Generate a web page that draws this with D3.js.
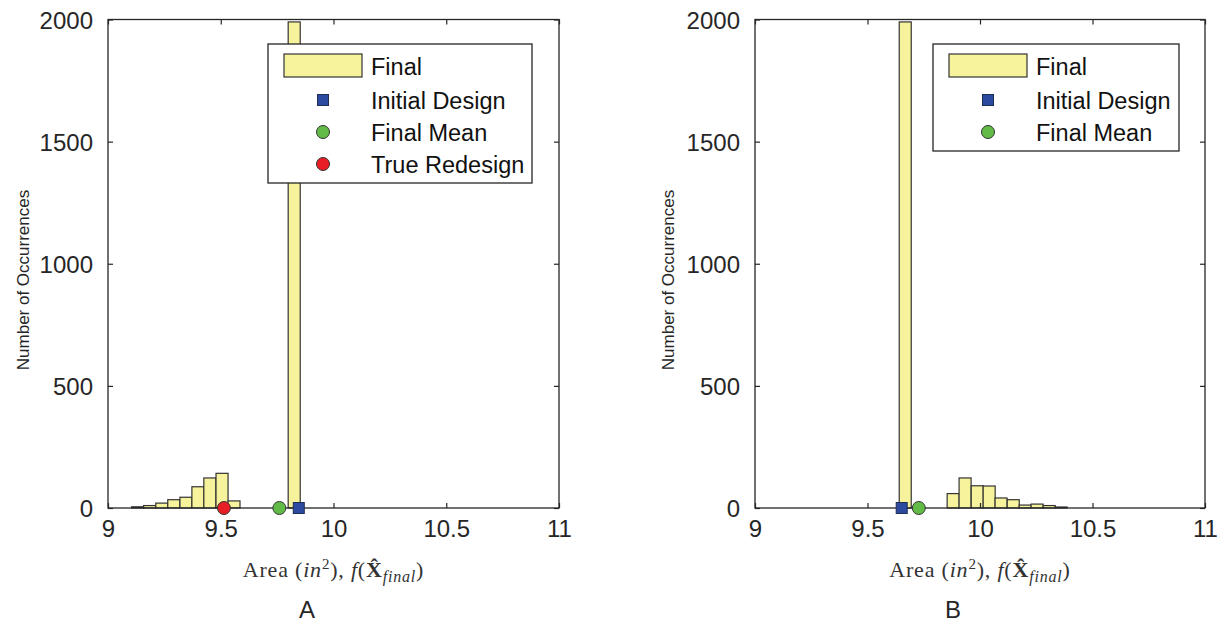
<!DOCTYPE html>
<html>
<head>
<meta charset="utf-8">
<script src="https://cdn.jsdelivr.net/npm/d3@7"></script>
<style>
  html, body { margin: 0; padding: 0; background: #fff; }
  svg { display: block; }
</style>
</head>
<body>
<svg id="chart" width="1227" height="626"></svg>
<script>
// ---------------- data ----------------
const binWidth = 0.0534;
// Panel A histogram (left bin edges and counts)
const leftBinStarts = [9.105, 9.158, 9.212, 9.265, 9.319, 9.372, 9.425, 9.479, 9.532, 9.799];
const leftCounts    = [5, 10, 20, 34, 44, 87, 123, 142, 29, 1990];
// Panel B histogram
const rightBinStarts = [9.641, 9.854, 9.907, 9.961, 10.014, 10.067, 10.121, 10.174, 10.227, 10.281, 10.334];
const rightCounts    = [1990, 59, 123, 91, 90, 41, 34, 12, 16, 10, 4];
// markers (x positions, at y = 0)
const leftInitialDesign = 9.846;
const leftFinalMean = 9.760;
const leftTrueRedesign = 9.514;
const rightInitialDesign = 9.652;
const rightFinalMean = 9.728;
// ticks
const xTicks = [9, 9.5, 10, 10.5, 11];
const xTickLabels = ["9", "9.5", "10", "10.5", "11"];
const yTicks = [0, 500, 1000, 1500, 2000];
const yTickLabels = ["0", "500", "1000", "1500", "2000"];
const legendA = ["Final", "Initial Design", "Final Mean", "True Redesign"];
const legendB = ["Final", "Initial Design", "Final Mean"];
const panelLabels = ["A", "B"];

// ---------------- style ----------------
const C = {
  axis: "#262626",
  bar: "#f7f29c",
  barEdge: "#333333",
  blue: "#2c4aa0",
  green: "#63bb47",
  red: "#e81d25"
};
const sans = "Helvetica, Arial, 'Liberation Sans', sans-serif";
const serif = "'Liberation Serif', 'Times New Roman', serif";

const svg = d3.select("#chart");
svg.append("rect").attr("width", 1227).attr("height", 626).attr("fill", "#fff");

function panel(opts) {
  const {x0, x1, y0, y1, starts, counts, markers, legend, legendBox, label, labelX, yLabelX} = opts;
  const x = d3.scaleLinear().domain([9, 11]).range([x0, x1]);
  const y = d3.scaleLinear().domain([0, 2000]).range([y1, y0]);
  const g = svg.append("g");

  // bars
  g.selectAll("rect.bar").data(starts.map((s, i) => ({s, c: counts[i]})))
    .enter().append("rect")
    .attr("x", d => x(d.s))
    .attr("width", d => x(d.s + binWidth) - x(d.s))
    .attr("y", d => y(d.c))
    .attr("height", d => y(0) - y(d.c))
    .attr("fill", C.bar)
    .attr("stroke", C.barEdge)
    .attr("stroke-width", 1.2);

  // axes (box with inward ticks on all sides)
  const tl = 5;
  const bottom = d3.axisBottom(x).tickValues(xTicks).tickSize(-tl).tickFormat((d, i) => xTickLabels[i]).tickPadding(12);
  const top = d3.axisTop(x).tickValues(xTicks).tickSize(-tl).tickFormat("");
  const left = d3.axisLeft(y).tickValues(yTicks).tickSize(-tl).tickFormat((d, i) => yTickLabels[i]).tickPadding(15);
  const right = d3.axisRight(y).tickValues(yTicks).tickSize(-tl).tickFormat("");

  const styleAxis = sel => {
    sel.select(".domain").attr("stroke", C.axis).attr("stroke-width", 1.3);
    sel.selectAll(".tick line").attr("stroke", C.axis).attr("stroke-width", 1.2);
    sel.selectAll(".tick text").attr("fill", "#262626").attr("font-family", sans).attr("font-size", 24);
  };
  g.append("g").attr("transform", `translate(0,${y1})`).call(bottom).call(styleAxis)
    .selectAll(".tick text").attr("dy", "0.71em");
  g.append("g").attr("transform", `translate(0,${y0})`).call(top).call(styleAxis);
  g.append("g").attr("transform", `translate(${x0},0)`).call(left).call(styleAxis)
    .selectAll(".tick text").attr("dy", "0.36em");
  g.append("g").attr("transform", `translate(${x1},0)`).call(right).call(styleAxis);
  g.selectAll(".domain").remove();
  g.append("rect").attr("x", x0).attr("y", y0).attr("width", x1 - x0).attr("height", y1 - y0)
    .attr("fill", "none").attr("stroke", C.axis).attr("stroke-width", 1.3);

  // markers
  markers.forEach(m => {
    if (m.type === "square") {
      g.append("rect").attr("x", x(m.v) - 5.5).attr("y", y(0) - 5.5).attr("width", 11).attr("height", 11)
        .attr("fill", m.color).attr("stroke", "#1f2d55").attr("stroke-width", 1);
    } else {
      g.append("circle").attr("cx", x(m.v)).attr("cy", y(0)).attr("r", 6.5)
        .attr("fill", m.color).attr("stroke", "#333").attr("stroke-width", 1);
    }
  });

  // y label
  g.append("text")
    .attr("transform", `translate(${yLabelX},280) rotate(-90)`)
    .attr("text-anchor", "middle").attr("dominant-baseline", "central")
    .attr("font-family", sans).attr("font-size", 17).attr("fill", "#262626")
    .text("Number of Occurrences");

  // x label (math style)
  const xl = g.append("text")
    .attr("x", (x0 + x1) / 2).attr("y", 577)
    .attr("text-anchor", "middle")
    .attr("letter-spacing", 0.8)
    .attr("font-family", serif).attr("font-size", 22).attr("fill", "#333");
  xl.append("tspan").text("Area (");
  xl.append("tspan").attr("font-style", "italic").text("in");
  xl.append("tspan").attr("font-size", 15).attr("dy", -8).text("2");
  xl.append("tspan").attr("dy", 8).text("),  ");
  xl.append("tspan").attr("font-style", "italic").text("f");
  xl.append("tspan").text("(");
  xl.append("tspan").attr("font-weight", "bold").text("X\u0302");
  xl.append("tspan").attr("font-style", "italic").attr("font-size", 16).attr("dy", 5).text("final");
  xl.append("tspan").attr("dy", -5).text(")");

  // panel label
  g.append("text").attr("x", labelX).attr("y", 618).attr("text-anchor", "middle")
    .attr("font-family", sans).attr("font-size", 24).attr("fill", "#262626").text(label);

  // legend
  const lb = legendBox;
  const lg = g.append("g");
  lg.append("rect").attr("x", lb.x).attr("y", lb.y).attr("width", lb.w).attr("height", lb.h)
    .attr("fill", "#fff").attr("stroke", C.axis).attr("stroke-width", 1.3);
  const rowY = [66, 100, 132, 164];
  legend.forEach((name, i) => {
    const ry = rowY[i];
    if (i === 0) {
      lg.append("rect").attr("x", lb.x + 16).attr("y", ry - 12).attr("width", 78).attr("height", 23)
        .attr("fill", C.bar).attr("stroke", C.barEdge).attr("stroke-width", 1.2);
    } else if (i === 1) {
      lg.append("rect").attr("x", lb.x + 55 - 5.5).attr("y", ry - 5.5).attr("width", 11).attr("height", 11)
        .attr("fill", C.blue).attr("stroke", "#1f2d55").attr("stroke-width", 1);
    } else {
      lg.append("circle").attr("cx", lb.x + 55).attr("cy", ry).attr("r", 6.5)
        .attr("fill", i === 2 ? C.green : C.red).attr("stroke", "#333").attr("stroke-width", 1);
    }
    lg.append("text").attr("x", lb.x + 103).attr("y", ry + 1).attr("dominant-baseline", "central")
      .attr("font-family", sans).attr("font-size", 23.5).attr("fill", "#111").text(name);
  });
}

panel({
  x0: 108, x1: 559, y0: 19.5, y1: 508,
  starts: leftBinStarts, counts: leftCounts,
  markers: [
    {type: "circle", v: leftFinalMean, color: C.green},
    {type: "square", v: leftInitialDesign, color: C.blue},
    {type: "circle", v: leftTrueRedesign, color: C.red}
  ],
  legend: legendA,
  legendBox: {x: 268, y: 44, w: 264, h: 139},
  label: panelLabels[0], labelX: 307, yLabelX: 23
});

panel({
  x0: 755, x1: 1205, y0: 19.5, y1: 508,
  starts: rightBinStarts, counts: rightCounts,
  markers: [
    {type: "square", v: rightInitialDesign, color: C.blue},
    {type: "circle", v: rightFinalMean, color: C.green}
  ],
  legend: legendB,
  legendBox: {x: 933, y: 44, w: 246, h: 107},
  label: panelLabels[1], labelX: 953, yLabelX: 668
});
</script>
</body>
</html>
